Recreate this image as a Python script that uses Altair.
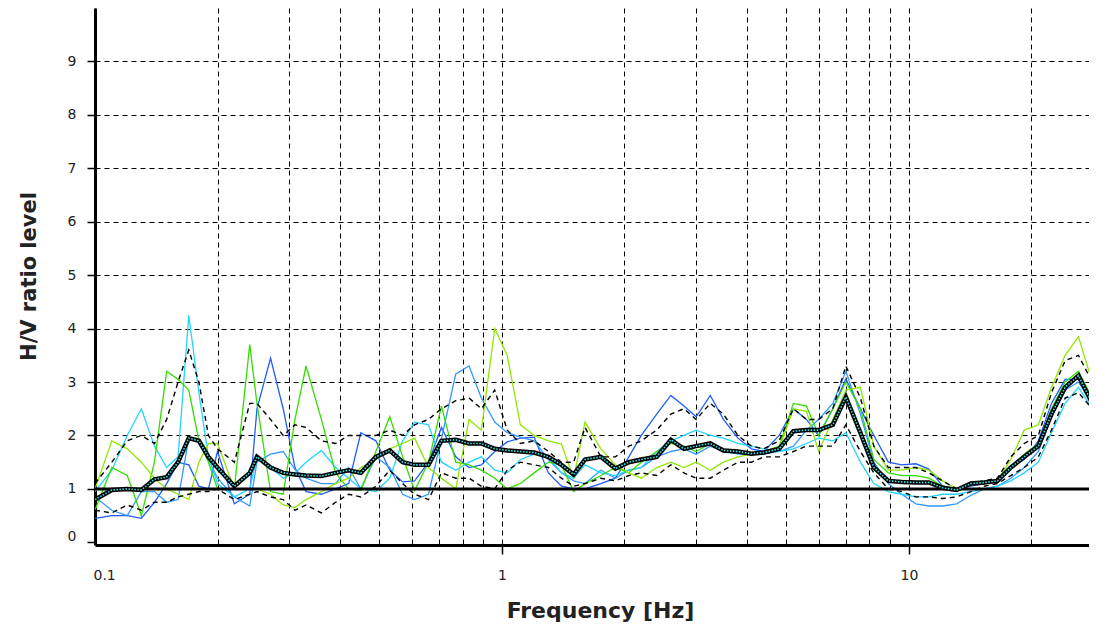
import altair as alt
import pandas as pd

# Frequency grid [Hz]
freq = [0.10, 0.11, 0.12, 0.13, 0.14, 0.15, 0.16, 0.17, 0.18, 0.19, 0.20,
        0.22, 0.24, 0.25, 0.27, 0.29, 0.31, 0.33, 0.36, 0.39,
        0.42, 0.45, 0.49, 0.53, 0.57, 0.61, 0.66, 0.71, 0.77, 0.83,
        0.89, 0.96, 1.03, 1.11, 1.2, 1.3, 1.4, 1.5, 1.6, 1.75,
        1.9, 2.05, 2.2, 2.4, 2.6, 2.8, 3.0, 3.25, 3.5, 3.8,
        4.1, 4.4, 4.8, 5.2, 5.6, 6.0, 6.5, 7.0, 7.6, 8.2,
        8.9, 9.6, 10.4, 11.2, 12.1, 13.1, 14.2, 15.3, 16.5, 17.8,
        19.2, 20.8, 22.4, 24.2, 26.1, 28.2, 30.0]

# Individual window H/V curves
win_blue = [0.45, 0.5, 0.5, 0.45, 0.75, 1.1, 1.5, 1.45, 1.05, 1.0, 1.7,
            0.72, 0.9, 2.5, 3.45, 2.5, 1.4, 0.95, 0.9, 1.0,
            1.1, 2.05, 1.9, 1.35, 1.13, 1.15, 1.5, 2.15, 1.6, 1.4,
            1.45, 1.7, 1.88, 1.95, 1.97, 1.3, 1.05, 1.0, 1.0, 1.1,
            1.2, 1.6, 2.0, 2.4, 2.75, 2.55, 2.35, 2.75, 2.3, 1.95,
            1.75, 1.7, 2.0, 2.5, 2.3, 2.0, 2.5, 3.06, 2.5, 2.0,
            1.5, 1.45, 1.47, 1.37, 1.05, 1.0, 1.05, 1.1, 1.15, 1.4,
            1.55, 1.9, 2.6, 3.05, 3.05, 2.6, 2.2]
win_lightblue = [0.85, 0.6, 0.5, 0.95, 0.95, 0.75, 0.8, 1.95, 1.9, 1.55, 1.2,
                 0.85, 0.68, 1.5, 1.65, 1.7, 1.36, 1.2, 1.1, 1.1,
                 1.4, 1.0, 1.6, 1.4, 0.9, 0.8, 0.9, 1.94, 3.15, 3.3,
                 2.7, 2.25, 2.05, 1.97, 1.9, 1.55, 1.3, 1.15, 1.1, 1.35,
                 1.2, 1.35, 1.4, 1.6, 1.7, 1.75, 1.65, 1.8, 1.7, 1.65,
                 1.65, 1.65, 1.7, 1.8, 2.1, 2.3, 2.6, 3.2, 2.4, 1.5,
                 1.1, 0.9, 0.72, 0.68, 0.68, 0.72, 0.88, 1.0, 1.05, 1.2,
                 1.4, 1.7, 2.35, 2.85, 3.0, 2.6, 2.2]
win_cyan = [0.95, 1.35, 2.0, 2.5, 1.8, 1.4, 1.6, 4.25, 2.8, 1.6, 1.1,
            0.85, 1.0, 1.6, 1.4, 1.2, 1.3, 1.5, 1.72, 1.4,
            1.2, 1.0, 0.95, 1.2, 1.9, 2.25, 2.2, 1.5, 1.35, 1.5,
            1.6, 1.35, 1.3, 1.55, 1.65, 1.6, 1.3, 1.2, 1.45, 1.3,
            1.25, 1.35, 1.4, 1.7, 1.9, 2.0, 2.1, 2.0, 1.95, 1.85,
            1.8, 1.75, 1.7, 1.75, 1.85, 1.95, 1.9, 2.05, 1.5, 1.1,
            0.95, 0.9, 0.85, 0.85, 0.9, 0.9, 0.95, 1.0, 1.05, 1.15,
            1.3, 1.5, 2.05, 2.6, 2.9, 2.5, 2.2]
win_green = [0.6, 1.4, 1.25, 0.5, 1.5, 3.2, 3.05, 2.85, 1.9, 1.5, 1.0,
             1.0, 3.7, 2.6, 0.95, 0.9, 2.3, 3.3, 2.3, 1.3,
             1.0, 0.97, 1.7, 2.35, 1.6, 0.97, 1.5, 2.55, 1.5, 1.45,
             1.35, 1.2, 1.0, 1.1, 1.3, 1.5, 1.45, 0.95, 1.1, 1.25,
             1.4, 1.3, 1.5, 1.7, 1.85, 1.8, 1.7, 1.85, 1.75, 1.7,
             1.65, 1.7, 1.8, 2.6, 2.55, 2.0, 2.5, 3.0, 2.5, 1.55,
             1.3, 1.25, 1.25, 1.2, 1.05, 1.0, 1.08, 1.1, 1.15, 1.4,
             1.65, 1.85, 2.5, 3.0, 3.2, 2.7, 2.3]
win_lime = [1.0, 1.9, 1.75, 1.5, 1.2, 1.0, 0.9, 0.8, 1.5, 1.85, 1.85,
            1.0, 1.0, 1.0, 0.9, 0.7, 0.65, 0.8, 0.95, 1.1,
            1.2, 1.4, 1.55, 1.75, 1.85, 1.95, 1.4, 1.2, 1.0, 2.3,
            2.1, 4.0, 3.5, 2.2, 2.0, 1.9, 1.84, 1.2, 2.25, 1.75,
            1.45, 1.3, 1.2, 1.4, 1.5, 1.4, 1.5, 1.35, 1.5, 1.6,
            1.65, 1.7, 1.75, 2.5, 2.45, 1.7, 2.3, 2.85, 2.9, 1.8,
            1.35, 1.35, 1.4, 1.35, 1.15, 1.0, 1.1, 1.12, 1.15, 1.55,
            2.1, 2.2, 2.9, 3.5, 3.85, 3.0, 2.3]

# Mean +/- standard deviation (dashed)
std_upper = [1.1, 1.5, 1.9, 2.0, 1.85, 2.3, 3.0, 3.6, 3.0, 2.0, 1.75,
             1.5, 2.6, 2.6, 2.3, 2.0, 2.2, 2.15, 1.9, 1.85,
             2.0, 2.0, 2.0, 2.1, 2.0, 2.2, 2.3, 2.5, 2.65, 2.7,
             2.5, 2.85, 2.1, 1.85, 1.9, 1.7, 1.5, 1.5, 2.15, 1.6,
             1.6, 1.8, 1.9, 2.1, 2.4, 2.5, 2.3, 2.6, 2.4, 2.0,
             1.8, 1.75, 1.9, 2.5, 2.3, 2.3, 2.5, 3.3, 2.7, 1.8,
             1.4, 1.4, 1.4, 1.3, 1.15, 1.0, 1.1, 1.15, 1.2, 1.6,
             1.85, 2.0, 2.8, 3.4, 3.5, 3.0, 2.4]
std_lower = [0.6, 0.55, 0.7, 0.6, 0.75, 0.75, 0.85, 0.9, 0.95, 0.95, 1.0,
             0.8, 0.9, 0.95, 0.85, 0.8, 0.6, 0.7, 0.55, 0.75,
             0.9, 0.85, 1.05, 1.35, 1.1, 0.9, 0.8, 1.3, 1.2, 1.2,
             1.05, 1.0, 1.35, 1.5, 1.45, 1.4, 1.2, 1.05, 1.1, 1.2,
             1.15, 1.25, 1.3, 1.25, 1.45, 1.3, 1.2, 1.2, 1.35, 1.5,
             1.5, 1.6, 1.6, 1.7, 1.8, 1.8, 1.8, 2.2, 1.7, 1.3,
             1.0, 0.95, 0.85, 0.85, 0.82, 0.85, 0.95, 1.05, 1.1, 1.25,
             1.4, 1.6, 2.1, 2.7, 2.8, 2.5, 2.1]

# Average H/V curve
hv_average = [0.8, 0.98, 1.0, 0.98, 1.18, 1.22, 1.5, 1.95, 1.9, 1.6, 1.4,
              1.05, 1.3, 1.6, 1.4, 1.3, 1.27, 1.25, 1.24, 1.3,
              1.35, 1.3, 1.6, 1.72, 1.5, 1.45, 1.45, 1.9, 1.92, 1.85,
              1.85, 1.75, 1.72, 1.7, 1.68, 1.6, 1.45, 1.27, 1.55, 1.6,
              1.38, 1.5, 1.55, 1.6, 1.92, 1.75, 1.8, 1.85, 1.72, 1.7,
              1.66, 1.68, 1.75, 2.08, 2.1, 2.1, 2.2, 2.72, 2.05, 1.4,
              1.15, 1.13, 1.12, 1.12, 1.02, 0.98, 1.1, 1.12, 1.15, 1.4,
              1.6, 1.8, 2.4, 2.9, 3.12, 2.6, 2.2]

ref_level = [1]

x_ticks = [0.1, 0.2, 0.3, 0.4, 0.5, 0.6, 0.7, 0.8, 0.9,
           1, 2, 3, 4, 5, 6, 7, 8, 9, 10, 20]
y_ticks = [0, 1, 2, 3, 4, 5, 6, 7, 8, 9]

win_names = ["w1", "w2", "w3", "w4", "w5"]
win_colors = ["#1f5cff", "#3399ff", "#22d4ff", "#33dd00", "#8ee800"]
win_series = [win_blue, win_lightblue, win_cyan, win_green, win_lime]

rows = []
for name, vals in zip(win_names, win_series):
    for f, v in zip(freq, vals):
        rows.append({"freq": f, "value": v, "series": name})
df_win = pd.DataFrame(rows)

rows = []
for name, vals in zip(["upper", "lower"], [std_upper, std_lower]):
    for f, v in zip(freq, vals):
        rows.append({"freq": f, "value": v, "series": name})
df_std = pd.DataFrame(rows)

df_avg = pd.DataFrame({"freq": freq, "value": hv_average})
df_ref = pd.DataFrame({"level": ref_level})

FONT = "DejaVu Sans"

x_enc = alt.X(
    "freq:Q",
    scale=alt.Scale(type="log", domain=[0.1, 27.7], nice=False),
    axis=alt.Axis(
        values=x_ticks,
        format="~g",
        labelExpr="(datum.value == 0.1 || datum.value == 1 || datum.value == 10) ? datum.label : ''",
        grid=True, gridDash=[5, 4], gridColor="black", gridWidth=1, gridOpacity=1,
        domainColor="black", domainWidth=3,
        tickColor="black", tickSize=9, tickWidth=1.5,
        tickOpacity={"condition": {"test": "datum.value == 1 || datum.value == 10", "value": 1}, "value": 0},
        labelFont=FONT, labelFontSize=14, labelColor="#222222", labelPadding=14,
        labelFlush=True, labelFlushOffset=2,
        title="Frequency [Hz]", titleFont=FONT, titleFontSize=22, titleFontWeight="bold",
        titleColor="#222222", titleX=505, titleY=65, titleAlign="center", titleBaseline="middle",
    ),
)

y_enc = alt.Y(
    "value:Q",
    scale=alt.Scale(domain=[-0.05, 10], nice=False, zero=False),
    axis=alt.Axis(
        values=y_ticks,
        grid=True, gridDash=[5, 4], gridColor="black", gridWidth=1,
        gridOpacity={"condition": {"test": "datum.value == 0", "value": 0}, "value": 1},
        domainColor="black", domainWidth=3,
        tickColor="black", tickSize=8, tickWidth=1.5,
        labelFont=FONT, labelFontSize=14, labelColor="#222222", labelPadding=11,
        labelOffset={"condition": {"test": "datum.value == 0", "value": -6}, "value": 0},
        title="H/V ratio level", titleFont=FONT, titleFontSize=21, titleFontWeight="bold",
        titleColor="#222222", titleAngle=270, titleX=-66, titleY=268,
        titleAlign="center", titleBaseline="middle",
    ),
)

windows = alt.Chart(df_win).mark_line(strokeWidth=1.3, clip=True).encode(
    x=x_enc, y=y_enc,
    color=alt.Color("series:N", scale=alt.Scale(domain=win_names, range=win_colors), legend=None),
    detail="series:N",
)

stds = alt.Chart(df_std).mark_line(strokeWidth=1.4, color="black", strokeDash=[5, 4], clip=True).encode(
    x="freq:Q", y="value:Q", detail="series:N",
)

ref = alt.Chart(df_ref).mark_rule(color="black", strokeWidth=3).encode(y="level:Q")

avg_black = alt.Chart(df_avg).mark_line(strokeWidth=4.5, color="black", clip=True).encode(
    x="freq:Q", y="value:Q")
avg_cyan = alt.Chart(df_avg).mark_line(strokeWidth=1.6, color="#33e6ee", strokeDash=[1.5, 1.5], clip=True).encode(
    x="freq:Q", y="value:Q")

chart = alt.layer(windows, stds, ref, avg_black, avg_cyan).properties(
    width=994, height=537,
    padding={"left": 87, "top": 0, "right": 0, "bottom": 78},
    autosize=alt.AutoSizeParams(type="none"),
    background="white",
).configure_view(stroke=None)

chart.save("out.html", embed_options={"renderer": "svg", "actions": False})
